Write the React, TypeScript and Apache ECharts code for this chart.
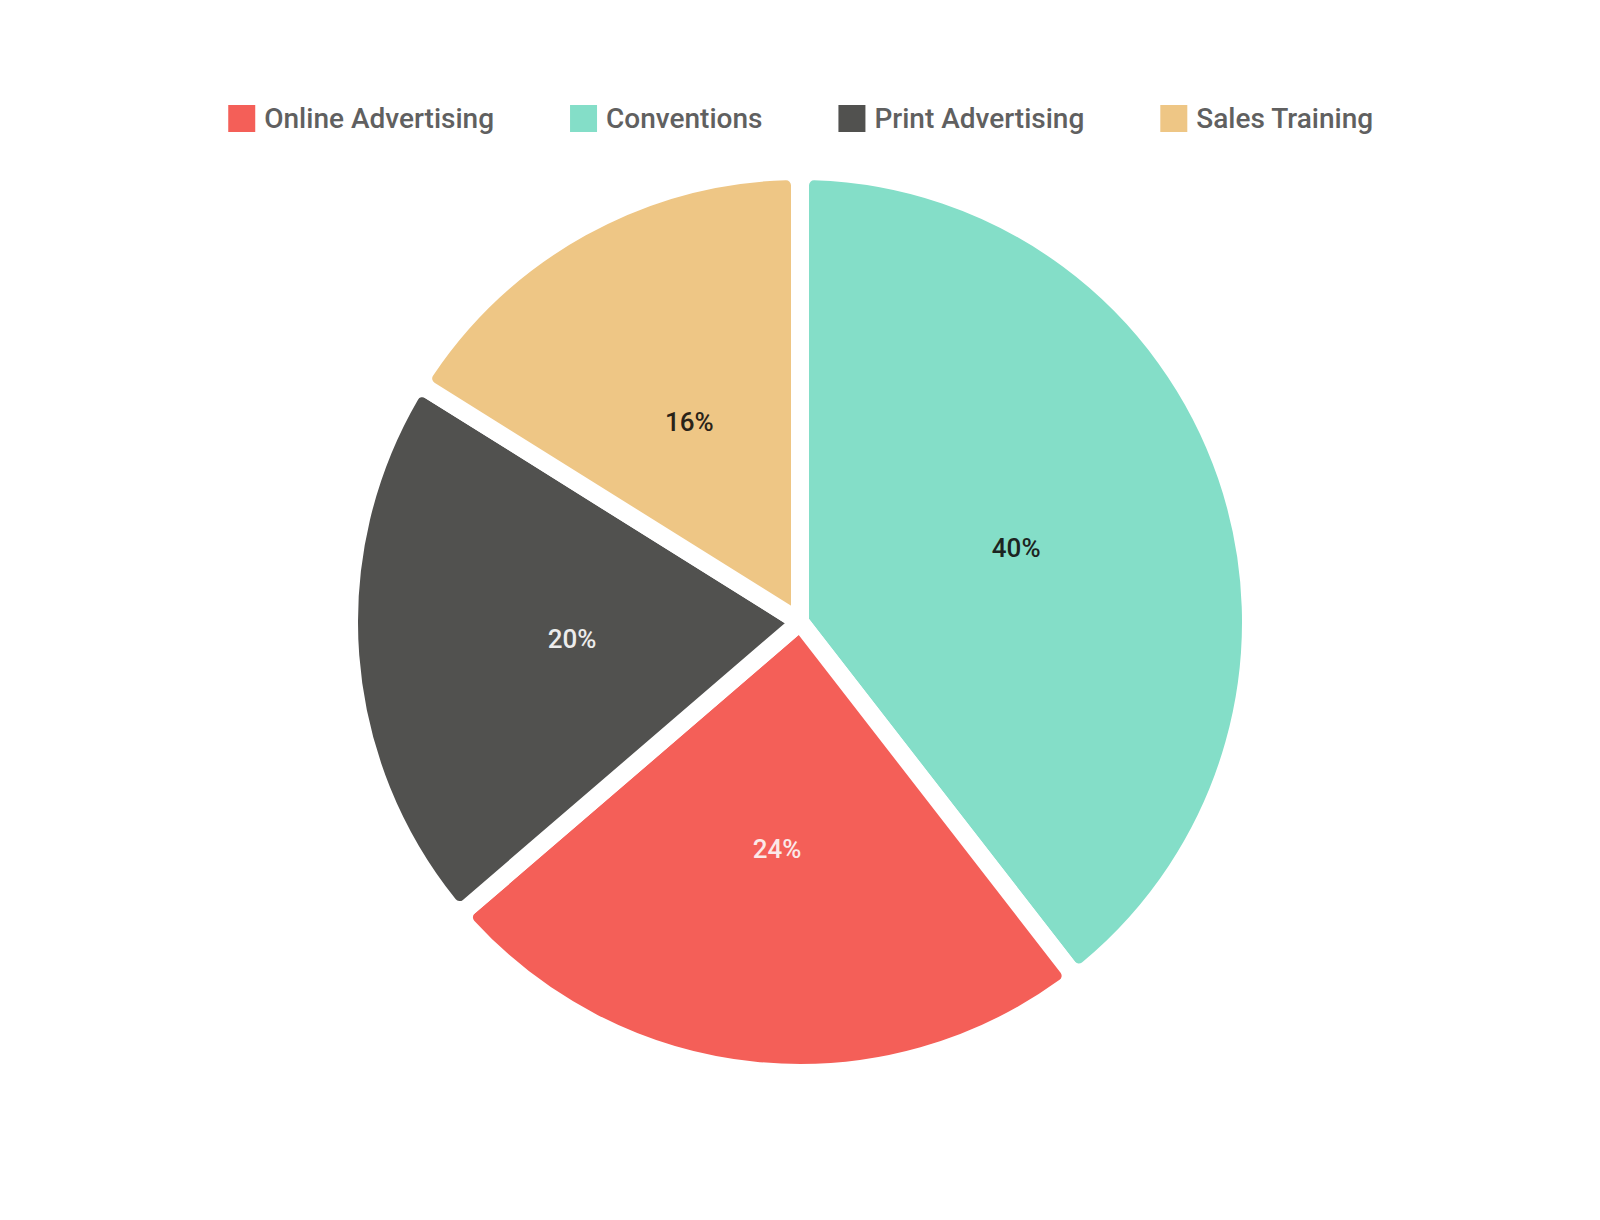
import React, { useEffect, useRef } from "react";
import * as echarts from "echarts";

const legendOrder = ["Online Advertising", "Conventions", "Print Advertising", "Sales Training"];
const categories = ["Conventions", "Online Advertising", "Print Advertising", "Sales Training"];
const values = [39.5, 24.2, 20.2, 16.1];
const colors = ["#84dec8", "#f45f58", "#51514f", "#eec685"];
const labelColors = ["#1c2421", "#fbe9e8", "#ececec", "#2a2318"];

export default function App() {
  const ref = useRef<HTMLDivElement>(null);
  useEffect(() => {
    document.body.style.margin = "0";
    if (!ref.current) return;
    const chart = echarts.init(ref.current, undefined, { renderer: "svg" });
    chart.setOption({
      animation: false,
      backgroundColor: "#ffffff",
      legend: {
        data: legendOrder,
        top: 98,
        left: "center",
        icon: "rect",
        itemWidth: 29,
        itemHeight: 29,
        itemGap: 74,
        textStyle: {
          fontFamily: "Roboto",
          fontSize: 28,
          fontWeight: 500,
          color: "#606060",
          padding: [0, 0, 0, 3],
        },
      },
      series: [
        {
          type: "pie",
          center: [800, 622],
          radius: [0, 451],
          startAngle: 90,
          clockwise: true,
          percentPrecision: 0,
          avoidLabelOverlap: false,
          label: {
            show: true,
            position: "inside",
            formatter: "{d}%",
            fontFamily: "Roboto",
            fontSize: 26,
            fontWeight: 500,
          },
          labelLine: { show: false },
          itemStyle: {
            borderColor: "#ffffff",
            borderWidth: 18,
            borderRadius: 14,
          },
          emphasis: { disabled: true },
          data: categories.map((name, i) => ({
            name,
            value: values[i],
            itemStyle: { color: colors[i] },
            label: { color: labelColors[i] },
          })),
        },
      ],
    });
    return () => chart.dispose();
  }, []);
  return <div ref={ref} style={{ width: 1600, height: 1220 }} />;
}
